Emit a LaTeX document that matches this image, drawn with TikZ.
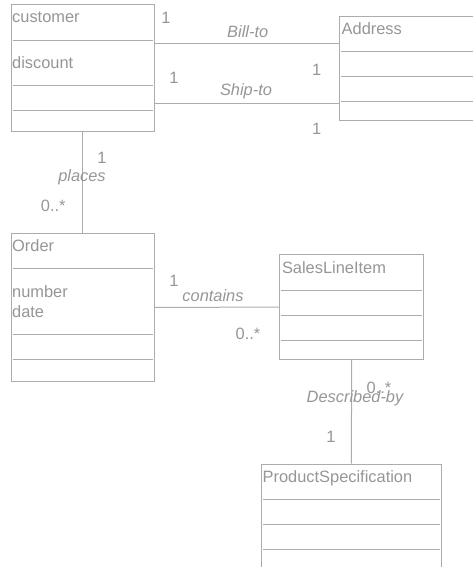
\documentclass[tikz,border=0pt]{standalone}
\usepackage{fontspec}
\setmainfont{Liberation Sans}
\usetikzlibrary{calc}
\definecolor{txtgray}{RGB}{150,150,150}
\definecolor{lngray}{RGB}{172,172,172}
\begin{document}
\begin{tikzpicture}[x=1pt,y=-1pt,
  umlbox/.style={draw=lngray,line width=1pt,rectangle,anchor=north west,inner sep=0pt,fill=white},
  sep/.style={draw=lngray,line width=1pt},
  conn/.style={draw=lngray,line width=1pt},
  boxtxt/.style={anchor=base west,inner sep=0pt,text=txtgray,font=\fontsize{16.4}{19}\selectfont},
  mult/.style={anchor=base,inner sep=0pt,text=txtgray,font=\fontsize{16.4}{19}\selectfont},
  role/.style={anchor=base,inner sep=0pt,text=txtgray,font=\fontsize{16.4}{19}\selectfont\itshape}]
\useasboundingbox (0,0) rectangle (473,567);
\clip (0,0) rectangle (473,567);

% class boxes
\node[umlbox,minimum width=143.5pt,minimum height=126.5pt] (cust) at (10.5,4.5) {};
\node[umlbox,minimum width=145pt,minimum height=104pt] (addr) at (339,16) {};
\node[umlbox,minimum width=143.5pt,minimum height=148.3pt] (order) at (10.5,232.7) {};
\node[umlbox,minimum width=143.7pt,minimum height=104.7pt] (sli) at (279.3,254.3) {};
\node[umlbox,minimum width=180.3pt,minimum height=116.3pt] (ps) at (260.7,463.7) {};

% compartments
\foreach \d in {36.5,81.5,106.5}
  \draw[sep] ($(cust.north west)+(2,\d)$) -- ($(cust.north east)+(-2,\d)$);
\foreach \d in {35.7,60.7,85.3}
  \draw[sep] ($(addr.north west)+(2,\d)$) -- ($(addr.north east)+(-2,\d)$);
\foreach \d in {35.3,101.3,126.3}
  \draw[sep] ($(order.north west)+(2,\d)$) -- ($(order.north east)+(-2,\d)$);
\foreach \d in {35.7,61,85.7}
  \draw[sep] ($(sli.north west)+(2,\d)$) -- ($(sli.north east)+(-2,\d)$);
\foreach \d in {35.6,60.6,85.6}
  \draw[sep] ($(ps.north west)+(2,\d)$) -- ($(ps.north east)+(-2,\d)$);

% box texts
\node[boxtxt] (custname) at ($(cust.north west)+(1.5,18.2)$) {customer};
\node[boxtxt] (custattr) at ($(cust.north west)+(1.5,63.8)$) {discount};
\node[boxtxt] (addrname) at ($(addr.north west)+(2.5,18.3)$) {Address};
\node[boxtxt] (ordername) at ($(order.north west)+(1.5,18.3)$) {Order};
\node[boxtxt] (ordernum) at ($(order.north west)+(1.5,64.6)$) {number};
\node[boxtxt] (orderdate) at ($(order.north west)+(1.5,84.6)$) {date};
\node[boxtxt] (sliname) at ($(sli.north west)+(2.5,19)$) {SalesLineItem};
\node[boxtxt] (psname) at ($(ps.north west)+(1.8,18.6)$) {ProductSpecification};

% connectors
\coordinate (billy) at (0,43.3);
\coordinate (shipy) at (0,104);
\draw[conn] (cust.east |- billy) -- (addr.west |- billy);
\draw[conn] (cust.east |- shipy) -- (addr.west |- shipy);
\draw[conn] (cust.south) -- (order.north);
\draw[conn] (order.east) -- (sli.west);
\draw[conn] (sli.south) -- (ps.north);

% labels
\node[mult] (b1) at (166,23.3) {1};
\node[role] (billto) at (247.7,37.3) {Bill-to};
\node[mult] (b2) at (316.7,75.7) {1};
\node[mult] (s1) at (174,84) {1};
\node[role] (shipto) at (246,96) {Ship-to};
\node[mult] (s2) at (316.7,135) {1};
\node[mult] (p1) at (102,163.3) {1};
\node[role] (places) at (82,181.7) {places};
\node[mult] (p2) at (53.3,211.7) {0..*};
\node[mult] (c1) at (174,286.7) {1};
\node[role] (contains) at (213,301.7) {contains};
\node[mult] (c2) at (248,339.5) {0..*};
\node[mult] (d1) at (379,393.3) {0..*};
\node[role] (described) at (355,402.7) {Described-by};
\node[mult] (d2) at (331,442.7) {1};
\end{tikzpicture}
\end{document}
